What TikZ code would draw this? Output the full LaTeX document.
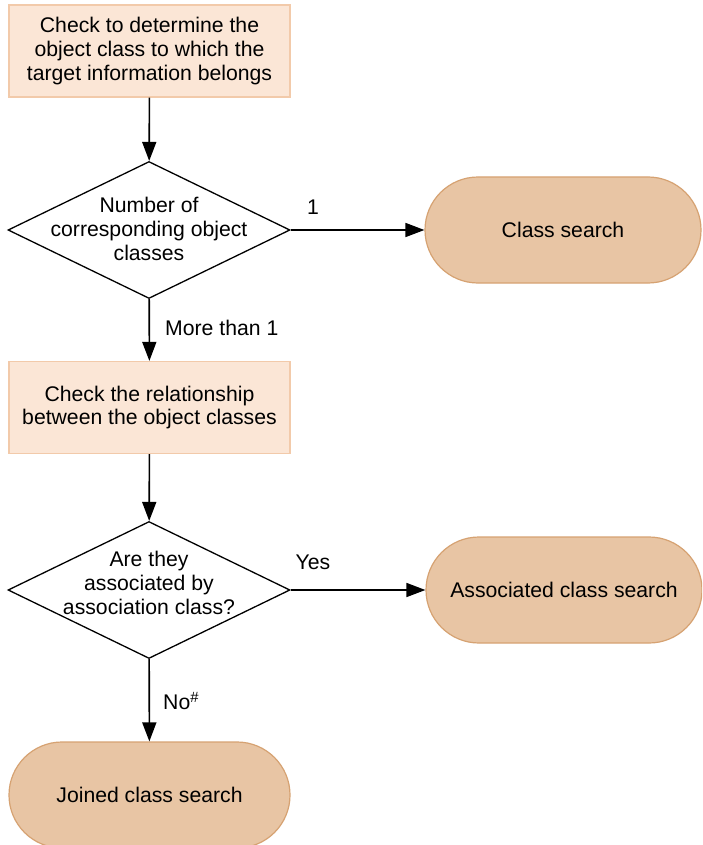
\documentclass[tikz,border=0pt]{standalone}
\usepackage{fontspec}
\setmainfont{Liberation Sans}
\usetikzlibrary{shapes.geometric,arrows.meta}

\definecolor{boxfill}{RGB}{251,230,214}
\definecolor{boxline}{RGB}{242,202,170}
\definecolor{termfill}{RGB}{232,197,164}
\definecolor{termline}{RGB}{214,162,114}

\tikzset{
  txt/.style={font=\fontsize{21.2}{23.6}\selectfont, align=center},
  process/.style={txt, draw=boxline, fill=boxfill, line width=1.2pt,
    minimum width=281pt, minimum height=92pt, inner sep=0pt},
  decision/.style={diamond, draw=black, fill=white, line width=1.3pt,
    minimum width=282pt, minimum height=137pt, inner sep=0pt},
  terminal/.style={txt, draw=termline, fill=termfill, line width=1.2pt,
    rounded corners=53pt, minimum width=276pt, minimum height=106pt, inner sep=0pt},
  flow/.style={line width=1.6pt, -{Triangle[length=19pt,width=14pt]}},
  lbl/.style={txt, inner sep=0pt}
}

\begin{document}
\begin{tikzpicture}[x=1pt,y=-1pt]
  \clip (0,0) rectangle (702,845);
  \fill[white] (0,0) rectangle (702,845);

  % first check
  \node[process] (p1) at (149.5,51) {Check to determine the\\object class to which the\\target information belongs};

  % number of classes decision
  \node[decision] (d1) at (149,230) {};
  \node[txt] (d1t) at (149,229) {Number of\\corresponding object\\classes};

  \node[terminal] (t1) at (563,230) {Class search};

  % relationship check
  \node[process] (p2) at (149.5,407.5) {Check the relationship\\between the object classes};

  % association decision
  \node[decision] (d2) at (149,590) {};
  \node[txt] (d2t) at (149,583) {Are they\\associated by\\association class?};

  \node[terminal] (t2) at (564,590) {Associated class search};

  \node[terminal, minimum width=281pt] (t3) at (149.5,795) {Joined class search};

  % connectors
  \draw[flow] (p1) -- (d1);
  \draw[flow] (d1) -- (t1);
  \draw[flow] (d1) -- (p2);
  \draw[flow] (p2) -- (d2);
  \draw[flow] (d2) -- (t2);
  \draw[flow] (d2) -- (t3);

  % branch labels
  \node[lbl] (l1) at (313,207) {1};
  \node[lbl, anchor=west] (l2) at (165,328) {More than 1};
  \node[lbl] (l3) at (313,562) {Yes};
  \node[lbl, anchor=west] (l4) at (163,701) {No\textsuperscript{\#}};
\end{tikzpicture}
\end{document}
